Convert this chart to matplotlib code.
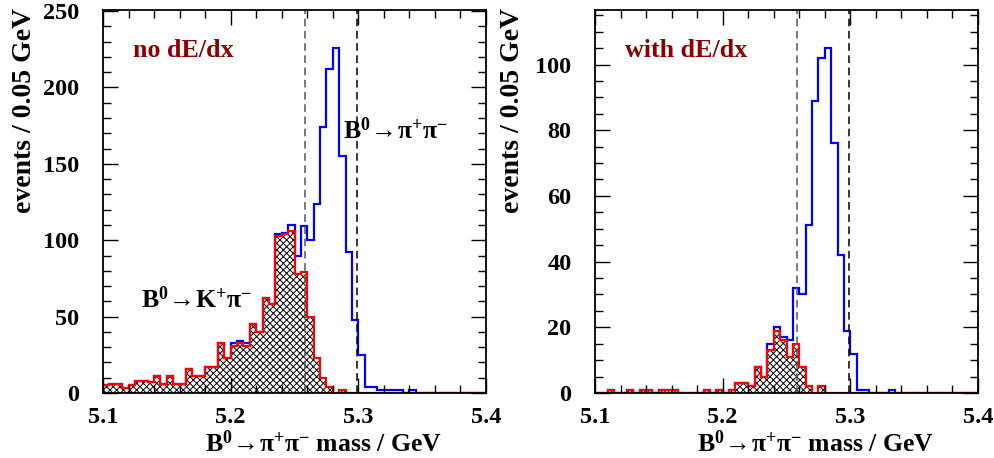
import numpy as np
import matplotlib
matplotlib.use("Agg")
import matplotlib.pyplot as plt
from matplotlib.ticker import MultipleLocator

plt.rcParams['font.family'] = ['Liberation Serif', 'DejaVu Serif']
plt.rcParams['font.weight'] = 'bold'
plt.rcParams['mathtext.fontset'] = 'custom'
plt.rcParams['mathtext.rm'] = 'Liberation Serif:bold'
plt.rcParams['mathtext.bf'] = 'Liberation Serif:bold'
plt.rcParams['mathtext.it'] = 'Liberation Serif:bold'
plt.rcParams['hatch.linewidth'] = 0.7

# bin edges: 5.1 .. 5.4 GeV, 60 bins
edges = np.linspace(5.1, 5.4, 61)

# left panel: no dE/dx
kpi_nodedx = [5, 6, 6, 3, 5, 8, 8, 7, 11, 6,
              11, 6, 6, 16, 11, 11, 17, 17, 33, 23,
              31, 33, 31, 45, 40, 62, 58, 103, 104, 106,
              78, 79, 50, 23, 10, 4, 0, 2, 0, 0] + [0] * 20
all_nodedx = [5, 6, 6, 3, 5, 8, 8, 7, 11, 6,
              11, 6, 6, 16, 11, 11, 17, 17, 33, 23,
              33, 34, 33, 45, 40, 62, 58, 104, 105, 110,
              90, 109, 100, 124, 174, 212, 226, 155, 92, 48,
              25, 4, 4, 2, 2, 2, 2, 0, 2, 0] + [0] * 10

# right panel: with dE/dx
kpi_dedx = [0, 0, 1, 0, 0, 1, 0, 1, 1, 0,
            1, 1, 1, 0, 0, 0, 0, 1, 0, 1,
            0, 1, 3, 3, 2, 8, 5, 13, 19, 16,
            11, 15, 8, 2, 0, 2, 0, 0, 0, 0] + [0] * 20
all_dedx = [0, 0, 1, 0, 0, 1, 0, 1, 1, 0,
            1, 1, 1, 0, 0, 0, 0, 1, 0, 1,
            0, 1, 3, 3, 2, 8, 5, 15, 20, 17,
            16, 32, 30, 51, 89, 102, 105, 76, 42, 19,
            12, 1, 1, 0, 0, 0, 1, 0, 0, 0] + [0] * 10

cut_lo, cut_hi = 5.258, 5.299
darkred = '#8b0000'

fig = plt.figure(figsize=(9.95, 4.58), dpi=100)
ax1 = fig.add_axes([103/995, 65/458, 383/995, 383/458])
ax2 = fig.add_axes([595/995, 65/458, 383/995, 383/458])

def draw(ax, kpi, tot, ymax, ymaj, ymin, label):
    ax.stairs(tot, edges, color='#0000ff', lw=1.6)
    ax.stairs(kpi, edges, fill=True, facecolor='none', edgecolor='black',
              hatch='xxxxx', lw=0)
    ax.stairs(kpi, edges, color='#ff0000', lw=1.6)
    ax.axvline(cut_lo, color='#555555', ls=(0, (5, 3)), lw=1.1)
    ax.axvline(cut_hi, color='black', ls=(0, (5, 3)), lw=1.1)
    ax.set_xlim(5.1, 5.4)
    ax.set_ylim(0, ymax)
    ax.xaxis.set_major_locator(MultipleLocator(0.1))
    ax.xaxis.set_minor_locator(MultipleLocator(0.02))
    ax.yaxis.set_major_locator(MultipleLocator(ymaj))
    ax.yaxis.set_minor_locator(MultipleLocator(ymin))
    ax.tick_params(which='both', direction='in', top=True, right=True,
                   labelsize=17.5, width=1)
    ax.tick_params(which='major', length=11)
    ax.tick_params(which='minor', length=5.5)
    ax.tick_params(axis='x', which='major', pad=10)
    ax.tick_params(axis='y', which='major', pad=17)
    for s in ax.spines.values():
        s.set_linewidth(1.3)
    ax.text(0.078, 0.895, label, transform=ax.transAxes, color=darkred,
            fontsize=18.7, fontweight='bold', va='center', ha='left')
    ax.set_xlabel(r'$\mathbf{B^{0}\!\rightarrow\!\pi^{+}\pi^{-}}$ mass / GeV',
                  fontsize=18.5, fontweight='bold')
    ax.xaxis.set_label_coords(0.885, -0.098)
    ax.xaxis.label.set_ha('right')
    ax.xaxis.label.set_va('top')

draw(ax1, kpi_nodedx, all_nodedx, 250.7, 50, 10, 'no dE/dx')
draw(ax2, kpi_dedx, all_dedx, 116.6, 20, 5, 'with dE/dx')

ax1.text(5.329, 172, r'$\mathbf{B^{0}\!\rightarrow\!\pi^{+}\pi^{-}}$',
         fontsize=18.5, ha='center', va='center')
ax1.text(5.173, 61, r'$\mathbf{B^{0}\!\rightarrow\!K^{+}\pi^{-}}$',
         fontsize=18.5, ha='center', va='center')

fig.text(25/995, 1 - 8/458, 'events / 0.05 GeV', rotation=90,
         ha='center', va='top', fontsize=20, fontweight='bold')
fig.text(513/995, 1 - 8/458, 'events / 0.05 GeV', rotation=90,
         ha='center', va='top', fontsize=20, fontweight='bold')

fig.savefig('out.png', dpi=100)
